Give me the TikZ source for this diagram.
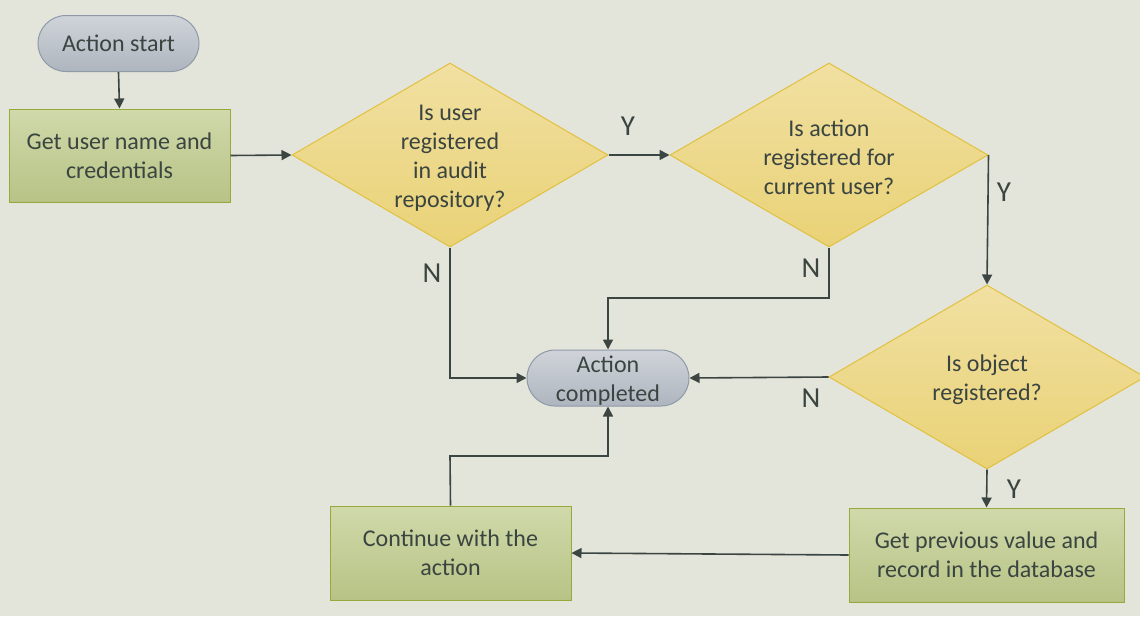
\documentclass[tikz,border=0pt]{standalone}
\usepackage{fontspec}
\setmainfont{Carlito}
\usetikzlibrary{shapes.geometric,arrows.meta}
\definecolor{bgc}{RGB}{227,229,218}
\definecolor{txt}{RGB}{58,68,64}
\definecolor{lnc}{RGB}{59,69,65}
\definecolor{termtop}{RGB}{208,212,218}
\definecolor{termbot}{RGB}{174,181,190}
\definecolor{termbd}{RGB}{142,154,168}
\definecolor{grtop}{RGB}{208,217,170}
\definecolor{grbot}{RGB}{183,195,134}
\definecolor{grbd}{RGB}{152,168,58}
\definecolor{ytop}{RGB}{241,224,162}
\definecolor{ybot}{RGB}{233,210,118}
\definecolor{ybd}{RGB}{226,192,62}
\tikzset{
  basetext/.style={font=\fontsize{24}{29}\selectfont, text=txt, align=center},
  term/.style={basetext, rectangle, rounded corners=28pt, draw=termbd, line width=1pt,
    top color=termtop, bottom color=termbot, minimum height=56pt, inner sep=0pt},
  procbox/.style={basetext, rectangle, draw=grbd, line width=1pt,
    top color=grtop, bottom color=grbot, minimum height=93pt, inner sep=0pt},
  decide/.style={diamond, draw=ybd, line width=1pt, top color=ytop, bottom color=ybot,
    minimum width=316pt, minimum height=184pt, inner sep=0pt},
  dtext/.style={basetext},
  conn/.style={draw=lnc, line width=1.6pt, -{Triangle[length=10pt,width=10pt]}},
  yn/.style={font=\fontsize{29}{34}\selectfont, text=txt, inner sep=0pt}
}
\begin{document}
\begin{tikzpicture}[x=1pt,y=-1pt]
\useasboundingbox (0,0) rectangle (1140,616);
\fill[bgc] (0,0) rectangle (1140,616);
\begin{scope}
\clip (0,0) rectangle (1140,616);
\node[term, minimum width=161pt] (start) at (118.5,43.5) {Action start};
\node[procbox, minimum width=221pt] (getuser) at (119.5,155.5) {Get user name and\\credentials};
\node[decide] (d1) at (450,155) {};
\node[dtext] (d1t) at (450,158) {Is user\\registered\\in audit\\repository?};
\node[decide, minimum width=318pt] (d2) at (829,155) {};
\node[dtext] (d2t) at (829,157.5) {Is action\\registered for\\current user?};
\node[decide] (d3) at (987,377) {};
\node[dtext] (d3t) at (987,379.5) {Is object\\registered?};
\node[term, minimum width=162pt] (done) at (608,378) {};
\node[dtext] (donet) at (608,381) {Action\\completed};
\node[procbox, minimum width=275pt, minimum height=94pt] (getprev) at (986.5,555) {Get previous value and\\record in the database};
\node[procbox, minimum width=241pt, minimum height=94pt] (cont) at (450.5,553) {Continue with the\\action};
\end{scope}
\coordinate (c2a) at (829,298);
\coordinate (c2b) at (608,298);
\coordinate (c4a) at (450,456);
\coordinate (c4b) at (608,456);
\draw[conn] (start.south) -- (getuser.north);
\draw[conn] (getuser.east) -- (d1.west);
\draw[conn] (d1.east) -- (d2.west);
\draw[conn] (d2.east) -- (d3.north);
\draw[conn] (d1.south) |- (done.west);
\draw[conn] (d2.south) -- (c2a) -- (c2b) -- (done.north);
\draw[conn] (d3.west) -- (done.east);
\draw[conn] (d3.south) -- (getprev.north);
\draw[conn] (getprev.west) -- (cont.east);
\draw[conn] (cont.north) -- (c4a) -- (c4b) -- (done.south);
\node[yn] (y1) at (628,126) {Y};
\node[yn] (y2) at (1004,192) {Y};
\node[yn] (n1) at (432,273) {N};
\node[yn] (n2) at (811,268) {N};
\node[yn] (n3) at (811,398) {N};
\node[yn] (y3) at (1014,489) {Y};
\end{tikzpicture}
\end{document}
